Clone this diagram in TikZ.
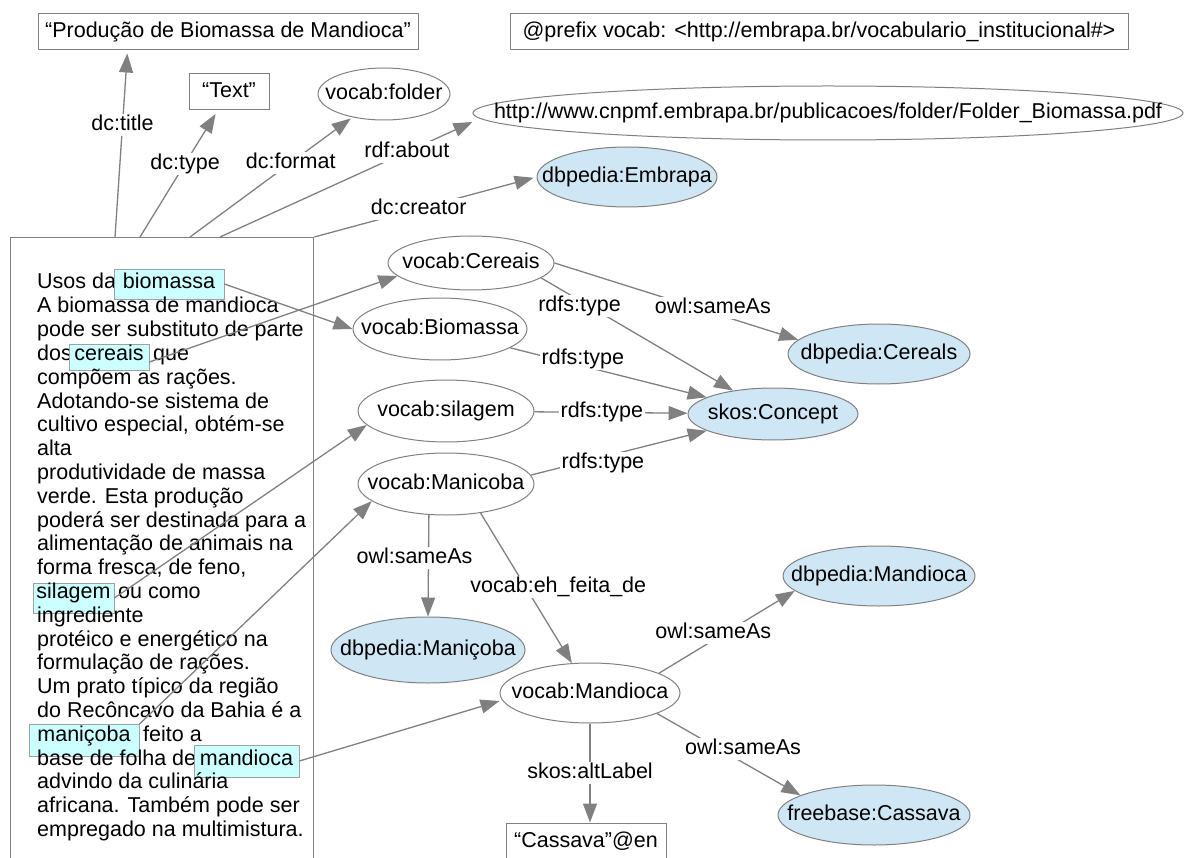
\documentclass[tikz,border=0pt]{standalone}
\usepackage{fontspec}
\setmainfont{Liberation Sans}
\usetikzlibrary{arrows.meta,shapes.geometric}

\definecolor{edgegray}{RGB}{128,128,128}
\definecolor{lodblue}{RGB}{207,231,245}
\definecolor{hlcyan}{RGB}{204,255,255}

% zero-width text box, so that the shape size is set by minimum width/height only
\newcommand{\zb}[1]{\makebox[0pt][c]{#1}}

\begin{document}
\begin{tikzpicture}[x=1pt, y=-1pt,
  font=\fontsize{21.5}{23.8}\selectfont,
  dims/.style 2 args={minimum width=#1pt, minimum height=#2pt},
  res/.style={ellipse, draw=edgegray, line width=1pt, inner sep=0pt,
              text height=15pt, text depth=4pt},
  lod/.style={res, fill=lodblue},
  lit/.style={rectangle, draw=edgegray, line width=1pt, inner sep=0pt,
              text height=15pt, text depth=4pt},
  hl/.style={rectangle, draw=edgegray!75, fill=hlcyan, line width=0.8pt, inner sep=0pt},
  txt/.style={anchor=base west, inner sep=0pt},
  rel/.style={draw=edgegray, line width=1.3pt, -{Triangle[length=19pt, width=14pt]}},
  lbl/.style={fill=white, inner sep=1.5pt, text height=15pt, text depth=4pt},
]
\useasboundingbox (0,0) rectangle (1185,858);

% ---------- literals and header ----------
\node[lit, dims={380}{36}] (title)  at (228,32) {\zb{“Produção de Biomassa de Mandioca”}};
\node[lit, dims={618}{36}] (prefix) at (819,32) {\zb{@prefix vocab: <http://embrapa.br/vocabulario\_institucional\#>}};
\node[lit, dims={80}{36}]  (textlit) at (229,92) {\zb{“Text”}};
\node[res, dims={132}{52}] (folder) at (384,94) {\zb{vocab:folder}};
\node[res, dims={710}{54}] (url) at (828,113) {\zb{http://www.cnpmf.embrapa.br/publicacoes/folder/Folder\_Biomassa.pdf}};
\node[lod, dims={180}{60}] (embrapa) at (627,177) {\zb{dbpedia:Embrapa}};

% ---------- vocabulary resources ----------
\node[res, dims={166}{54}] (vcer) at (471,263) {\zb{vocab:Cereais}};
\node[res, dims={174}{62}] (vbio) at (440,329) {\zb{vocab:Biomassa}};
\node[res, dims={176}{62}] (vsil) at (446,411) {\zb{vocab:silagem}};
\node[res, dims={176}{62}] (vman) at (446,484) {\zb{vocab:Manicoba}};
\node[res, dims={180}{60}] (vmnd) at (590,693) {\zb{vocab:Mandioca}};
\node[lod, dims={170}{52}] (skos) at (773,414) {\zb{skos:Concept}};
\node[lod, dims={182}{60}] (dbcer) at (879,354) {\zb{dbpedia:Cereals}};
\node[lod, dims={194}{66}] (dbman) at (428,650) {\zb{dbpedia:Maniçoba}};
\node[lod, dims={192}{60}] (dbmnd) at (879,576) {\zb{dbpedia:Mandioca}};
\node[lod, dims={192}{60}] (freebase) at (874,815) {\zb{freebase:Cassava}};
\node[lit, dims={160}{38}] (cassava) at (586,842) {\zb{“Cassava”@en}};

% ---------- annotated document ----------
\node[lit, line width=1.3pt, dims={303}{700}, anchor=north west] (doc) at (10,237) {};

\node[txt] (ln0) at (37,289) {Usos da};
\node[hl, dims={110}{30}, text height=14.5pt, text depth=4.5pt] (hbio) at (169,284) {\zb{biomassa}};
\node[txt] (ln1) at (37,312.8) {A biomassa de mandioca};
\node[txt] (ln2) at (37,336.6) {pode ser substituto de parte};
\node[txt] (ln3) at (37,360.4) {dos};
\node[hl, dims={80}{26}, text height=12.9pt, text depth=6.1pt] (hcer) at (109,357) {\zb{cereais}};
\node[txt] (ln3b) at (153,360.4) {que};
\node[txt] (ln4) at (37,384.2) {compõem as rações.};
\node[txt] (ln5) at (37,408) {Adotando-se sistema de};
\node[txt] (ln6) at (37,431.8) {cultivo especial, obtém-se};
\node[txt] (ln7) at (37,455.6) {alta};
\node[txt] (ln8) at (37,479.4) {produtividade de massa};
\node[txt] (ln9) at (37,503.2) {verde. Esta produção};
\node[txt] (ln10) at (37,527) {poderá ser destinada para a};
\node[txt] (ln11) at (37,550.8) {alimentação de animais na};
\node[txt] (ln12) at (37,574.6) {forma fresca, de feno,};
\node[hl, dims={81}{30}, text height=9.9pt, text depth=9.1pt] (hsil) at (73.5,598) {\zb{silagem}};
\node[txt] (ln13) at (118,598.4) {ou como};
\node[txt] (ln14) at (37,622.2) {ingrediente};
\node[txt] (ln15) at (37,646) {protéico e energético na};
\node[txt] (ln16) at (37,669.8) {formulação de rações.};
\node[txt] (ln17) at (37,693.6) {Um prato típico da região};
\node[txt] (ln18) at (37,717.4) {do Recôncavo da Bahia é a};
\node[hl, dims={110}{32}, text height=10.2pt, text depth=8.8pt] (hman) at (84,740.5) {\zb{maniçoba}};
\node[txt] (ln19) at (143,741.2) {feito a};
\node[txt] (ln20) at (37,765) {base de folha de};
\node[hl, dims={105}{32}, text height=13.5pt, text depth=5.5pt] (hmnd) at (246.5,761) {\zb{mandioca}};
\node[txt] (ln21) at (37,788.8) {advindo da culinária};
\node[txt] (ln22) at (37,812.6) {africana. Também pode ser};
\node[txt] (ln23) at (37,836.4) {empregado na multimistura.};

% ---------- document properties ----------
\draw[rel, shorten >=3pt] ([xshift=105pt]doc.north west) -- node[lbl, pos=.6] (e1) {dc:title} ([xshift=90pt]title.south west);
\draw[rel, shorten >=4pt] ([xshift=130pt]doc.north west) -- node[lbl, pos=.58] (e2) {dc:type} (textlit);
\draw[rel, shorten >=2pt] ([xshift=180pt]doc.north west) -- node[lbl, pos=.62] (e3) {dc:format} (folder);
\draw[rel] ([xshift=210pt]doc.north west) -- node[lbl, pos=.74] (e4) {rdf:about} ([yshift=-9pt]url.west);
\draw[rel, shorten >=3pt] (doc.north east) -- node[lbl, pos=.47] (e5) {dc:creator} (embrapa.west);

% ---------- annotations to vocabulary ----------
\draw[rel] (hbio.east) -- (vbio.west);
\draw[rel] ([yshift=-5pt]hcer.east) -- (vcer.190);
\draw[rel] (hsil.east) -- (vsil.190);
\draw[rel] (hman.north east) -- (vman.193);
\draw[rel] (hmnd.east) -- ([yshift=-8pt]vmnd.west);

% ---------- vocabulary relations ----------
\draw[rel] (vcer.-12) -- node[lbl, pos=.2, yshift=-6pt] (e11) {rdfs:type} (skos);
\draw[rel] (vbio.-15) -- node[lbl, pos=.37, yshift=7pt] (e12) {rdfs:type} (skos);
\draw[rel] (vsil) -- node[lbl, pos=.44] (e13) {rdfs:type} (skos);
\draw[rel] (vman.6) -- node[lbl, pos=.41, yshift=-6pt] (e14) {rdfs:type} (skos);
\draw[rel] (vcer.east) -- node[lbl, pos=.65, yshift=5pt] (e15) {owl:sameAs} (dbcer.170);
\draw[rel] (vman.-119) -- node[lbl, pos=.42, xshift=-14pt] (e16) {owl:sameAs} (dbman.north);
\draw[rel] (vman.-40) -- node[lbl, pos=.49, xshift=33pt] (e17) {vocab:eh\_feita\_de} (vmnd);
\draw[rel] (vmnd.16) -- node[lbl, pos=.4, yshift=7pt] (e18) {owl:sameAs} (dbmnd.190);
\draw[rel] (vmnd.-17) -- node[lbl, pos=.6, yshift=14pt] (e19) {owl:sameAs} (freebase.165);
\draw[rel] (vmnd.south) -- node[lbl, pos=.5] (e20) {skos:altLabel} (vmnd.south |- cassava.north);
\end{tikzpicture}
\end{document}
